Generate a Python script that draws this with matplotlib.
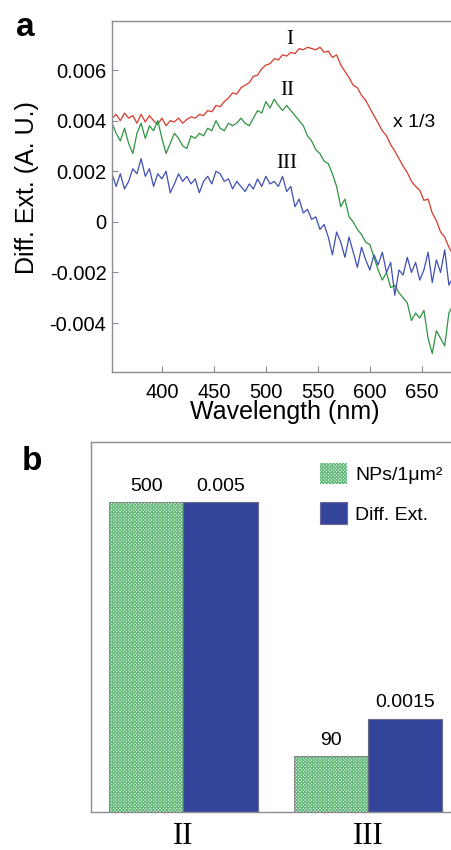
import matplotlib
matplotlib.use('Agg')
import matplotlib.pyplot as plt
from matplotlib.patches import Patch
import numpy as np

plt.rcParams['font.family'] = ['Liberation Sans', 'DejaVu Sans']
plt.rcParams['hatch.linewidth'] = 0.8

# panel a: differential extinction spectra (values in units of 1e-3)
wavelength = np.arange(352, 681, 4)
spec_I = [4.10, 4.25, 4.00, 4.30, 4.10, 4.20, 3.90, 4.25, 3.95, 4.20,
          4.00, 3.85, 4.10, 3.80, 4.00, 3.95, 4.10, 3.90, 4.05, 4.15,
          4.10, 4.25, 4.20, 4.40, 4.35, 4.60, 4.55, 4.75, 4.90, 5.10,
          5.05, 5.30, 5.40, 5.50, 5.75, 5.80, 6.05, 6.20, 6.25, 6.45,
          6.40, 6.60, 6.55, 6.70, 6.65, 6.85, 6.80, 6.90, 6.85, 6.80,
          6.90, 6.70, 6.75, 6.50, 6.60, 6.20, 5.95, 5.70, 5.40, 5.30,
          5.00, 4.80, 4.50, 4.20, 3.90, 3.60, 3.40, 3.05, 2.80, 2.50,
          2.20, 1.95, 1.60, 1.40, 1.25, 0.85, 0.90, 0.35, 0.05, -0.40,
          -0.60, -1.00, -1.30]
spec_II = [3.9, 3.5, 3.2, 3.7, 3.1, 2.7, 3.5, 3.9, 3.3, 3.8,
           3.6, 4.0, 3.3, 2.7, 3.1, 3.5, 3.3, 3.0, 2.9, 3.4,
           3.3, 3.5, 3.4, 3.7, 3.6, 4.0, 3.7, 3.6, 3.9, 3.8,
           3.9, 4.1, 3.9, 3.8, 4.1, 4.4, 4.3, 4.75, 4.5, 4.85,
           4.6, 4.4, 4.6, 4.4, 4.2, 4.0, 3.8, 3.4, 3.2, 2.85,
           2.7, 2.4, 2.3, 1.9, 1.4, 0.6, 0.9, 0.2, 0.0, -0.3,
           -0.5, -0.8, -0.9, -1.4, -1.9, -2.3, -2.0, -2.6, -2.5, -2.8,
           -3.0, -3.2, -3.9, -3.6, -3.8, -3.5, -4.6, -5.2, -4.3, -4.6,
           -4.9, -3.6, -3.3]
spec_III = [1.9, 1.4, 1.9, 1.3, 1.6, 2.1, 1.9, 2.5, 1.8, 2.1,
            1.4, 1.9, 1.7, 2.0, 1.15, 1.5, 1.9, 1.6, 1.8, 1.5,
            1.7, 1.15, 1.6, 1.8, 1.5, 2.0, 1.9, 1.6, 1.7, 1.3,
            1.6, 1.4, 1.2, 1.5, 1.3, 1.7, 1.4, 1.8, 1.5, 1.6,
            1.4, 1.8, 1.2, 1.4, 0.6, 0.9, 0.35, 0.5, 0.1, 0.2,
            -0.3, -0.1, -0.6, -1.3, -0.4, -0.8, -1.4, -0.6, -1.2, -1.8,
            -1.0, -1.5, -1.9, -1.3, -1.7, -1.2, -2.0, -1.6, -2.9, -1.9,
            -2.1, -1.4, -2.0, -1.6, -2.3, -1.9, -1.2, -2.4, -1.5, -2.0,
            -1.1, -2.5, -2.2]

# panel b: bar comparison
samples = ['II', 'III']
nps_density = [500, 90]
diff_ext = [0.005, 0.0015]
nps_text = ['500', '90']
ext_text = ['0.005', '0.0015']

red = '#d8392b'
green = '#2f9442'
blue = '#3f4fb3'
bar_blue = '#34449a'
hatch_green = '#62b878'
spine_gray = '#8c8c94'

fig = plt.figure(figsize=(4.52, 8.5), dpi=100)

# ---- panel a ----
ax = fig.add_axes([112 / 452, 1 - 371.7 / 850, 1 - 112 / 452, (371.7 - 20.7) / 850])
ax.plot(wavelength, np.array(spec_I) * 1e-3, color=red, lw=0.9)
ax.plot(wavelength, np.array(spec_II) * 1e-3, color=green, lw=0.9)
ax.plot(wavelength, np.array(spec_III) * 1e-3, color=blue, lw=0.9)
ax.set_xlim(352, 679)
ax.set_ylim(-0.00592, 0.00795)
ax.set_xticks([400, 450, 500, 550, 600, 650])
ax.set_yticks([-0.004, -0.002, 0, 0.002, 0.004, 0.006])
ax.set_yticklabels(['-0.004', '-0.002', '0', '0.002', '0.004', '0.006'])
ax.tick_params(direction='in', length=4, width=0.8, color=spine_gray,
               labelsize=14.5, pad=4)
ax.tick_params(axis='x', pad=8)
for s in ['left', 'bottom', 'top']:
    ax.spines[s].set_color(spine_gray)
    ax.spines[s].set_linewidth(1.0)
ax.spines['right'].set_visible(False)

ax.text(522.5, 0.00722, 'I', family='Liberation Serif', fontsize=15,
        ha='center', va='center')
ax.text(521, 0.00521, 'II', family='Liberation Serif', fontsize=15,
        ha='center', va='center')
ax.text(520, 0.00231, 'III', family='Liberation Serif', fontsize=15,
        ha='center', va='center')
ax.text(643, 0.00393, 'x 1/3', fontsize=14, ha='center', va='center')

fig.text(27 / 452, 1 - 187.5 / 850, 'Diff. Ext. (A. U.)', rotation=90,
         fontsize=18, ha='center', va='center')
fig.text(284.5 / 452, 1 - 419 / 850, 'Wavelength (nm)', fontsize=18,
         ha='center', va='baseline')
fig.text(16 / 452, 1 - 36 / 850, 'a', fontsize=24, fontweight='bold',
         va='baseline')

# ---- panel b ----
bx = fig.add_axes([91 / 452, 1 - 812 / 850, 1 - 91 / 452, (812 - 441.7) / 850])
x = np.arange(len(samples))
w = 0.403
h_nps = np.array(nps_density) / max(nps_density)
h_ext = np.array(diff_ext) / max(diff_ext)

g = bx.bar(x - w / 2, h_nps, w, color='#f1f9f3', edgecolor=hatch_green,
           hatch='xxxxxxxxxx', linewidth=0)
bx.bar(x - w / 2, h_nps, w, fill=False, edgecolor='#8a8a8a', linewidth=0.8)
b = bx.bar(x + w / 2, h_ext, w, color=bar_blue, edgecolor='#6a6a8a',
           linewidth=0.8)
bx.bar_label(g, labels=nps_text, padding=5.5, fontsize=14)
bx.bar_label(b, labels=ext_text, padding=5.5, fontsize=14)

bx.set_xlim(-0.5, 1.4556)
bx.set_ylim(0, 1.196)
bx.set_yticks([])
bx.set_xticks(x)
bx.set_xticklabels(samples, family='Liberation Serif', fontsize=22)
bx.tick_params(axis='x', length=0, pad=7)
for s in ['left', 'bottom', 'top']:
    bx.spines[s].set_color(spine_gray)
    bx.spines[s].set_linewidth(1.0)
bx.spines['right'].set_visible(False)

handles = [Patch(facecolor='#f1f9f3', edgecolor=hatch_green, hatch='xxxxxxxxxx',
                 linewidth=0),
           Patch(facecolor=bar_blue, edgecolor='#6a6a9a', linewidth=0.8)]
fig.legend(handles, ['NPs/1μm²', 'Diff. Ext.'], loc='upper left',
           bbox_to_anchor=(320 / 452, 1 - 462.7 / 850), frameon=False,
           fontsize=14, borderpad=0, borderaxespad=0, handlelength=1.39,
           handleheight=1.34, handletextpad=0.41, labelspacing=0.93)

fig.text(22 / 452, 1 - 470 / 850, 'b', fontsize=24, fontweight='bold',
         va='baseline')

fig.savefig('out.png', dpi=100)
